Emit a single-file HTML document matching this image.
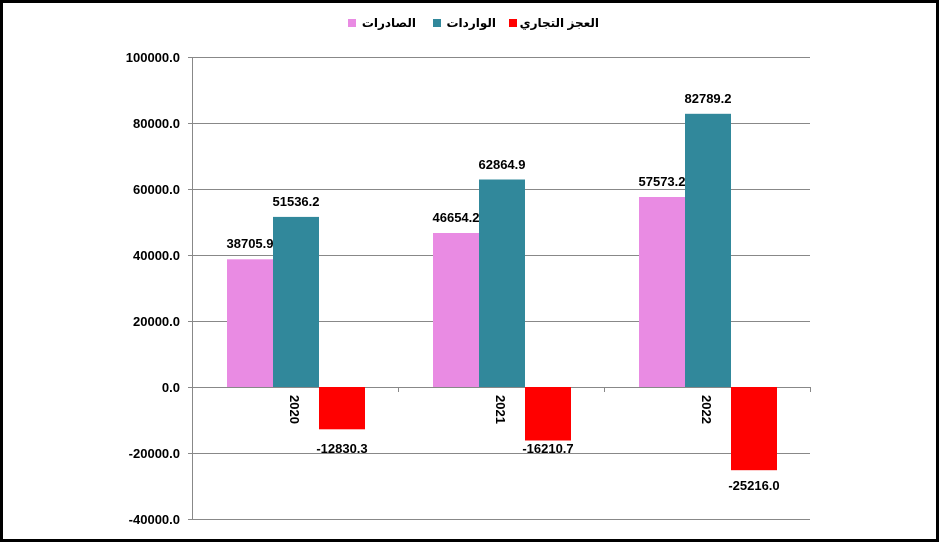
<!DOCTYPE html>
<html><head><meta charset="utf-8"><style>
html,body{margin:0;padding:0;background:#fff}
svg{display:block}
text{font-family:"Liberation Sans","DejaVu Sans",sans-serif;font-weight:bold;fill:#000}
.lg{position:absolute;top:16px;font-family:"Liberation Sans","DejaVu Sans",sans-serif;font-weight:bold;font-size:12px;direction:rtl;white-space:nowrap;text-align:left;}
</style></head><body>
<div style="position:relative;width:940px;height:545px">
<svg width="940" height="545" viewBox="0 0 940 545" xmlns="http://www.w3.org/2000/svg">
<rect x="1.5" y="1.5" width="936" height="539" fill="#fff" stroke="#000" stroke-width="3"/>
<g stroke="#888" stroke-width="1">
<line x1="188" y1="57.5" x2="810" y2="57.5"/>
<line x1="188" y1="123.5" x2="810" y2="123.5"/>
<line x1="188" y1="189.5" x2="810" y2="189.5"/>
<line x1="188" y1="255.5" x2="810" y2="255.5"/>
<line x1="188" y1="321.5" x2="810" y2="321.5"/>
<line x1="188" y1="453.5" x2="810" y2="453.5"/>
<line x1="188" y1="519.5" x2="810" y2="519.5"/>
<line x1="188" y1="387.5" x2="810" y2="387.5"/>
<line x1="192.5" y1="57" x2="192.5" y2="520"/>
<line x1="398.5" y1="387" x2="398.5" y2="392"/>
<line x1="604.5" y1="387" x2="604.5" y2="392"/>
<line x1="810.5" y1="387" x2="810.5" y2="392"/>
</g>
<g font-size="13" text-anchor="end">
<text x="180" y="62">100000.0</text>
<text x="180" y="128">80000.0</text>
<text x="180" y="194">60000.0</text>
<text x="180" y="260">40000.0</text>
<text x="180" y="326">20000.0</text>
<text x="180" y="392">0.0</text>
<text x="180" y="458">-20000.0</text>
<text x="180" y="524">-40000.0</text>
</g>
<rect x="227" y="259.3" width="46" height="127.7" fill="#e98be3"/>
<rect x="273" y="216.9" width="46" height="170.1" fill="#31889b"/>
<rect x="319" y="387" width="46" height="42.3" fill="#ff0000"/>
<rect x="433" y="233" width="46" height="154" fill="#e98be3"/>
<rect x="479" y="179.5" width="46" height="207.5" fill="#31889b"/>
<rect x="525" y="387" width="46" height="53.5" fill="#ff0000"/>
<rect x="639" y="197" width="46" height="190" fill="#e98be3"/>
<rect x="685" y="113.8" width="46" height="273.2" fill="#31889b"/>
<rect x="731" y="387" width="46" height="83.2" fill="#ff0000"/>
<g font-size="13" text-anchor="middle">
<text x="250" y="248">38705.9</text>
<text x="296" y="206">51536.2</text>
<text x="342" y="453">-12830.3</text>
<text x="456" y="222">46654.2</text>
<text x="502" y="169">62864.9</text>
<text x="548" y="453">-16210.7</text>
<text x="662" y="186">57573.2</text>
<text x="708" y="103">82789.2</text>
<text x="754" y="490">-25216.0</text>
</g>
<g font-size="13">
<text transform="translate(290,395) rotate(90)">2020</text>
<text transform="translate(496,395) rotate(90)">2021</text>
<text transform="translate(702,395) rotate(90)">2022</text>
</g>
<rect x="348" y="19" width="8" height="8" fill="#e98be3"/>
<rect x="433" y="19" width="8" height="8" fill="#31889b"/>
<rect x="509" y="19" width="8" height="8" fill="#ff0000"/>
</svg>
<div class="lg" style="right:524px">الصادرات</div>
<div class="lg" style="right:444px">الواردات</div>
<div class="lg" style="right:341px">العجز التجاري</div>
</div>
</body></html>
